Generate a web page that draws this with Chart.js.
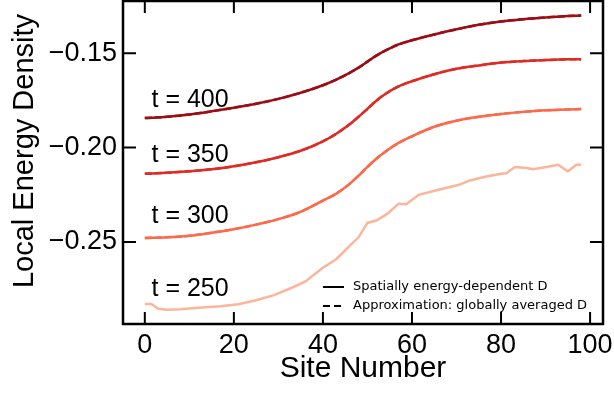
<!DOCTYPE html>
<html lang="en">
<head>
    <meta charset="UTF-8">
    <title>Local Energy Density</title>
    <style>
    body {
        margin: 0;
        padding: 0;
        background-color: white;
    }
    #chartBox {
        width: 614px;
        height: 393px;
    }
    </style>
    <script src="https://cdn.jsdelivr.net/npm/chart.js"></script>
</head>
<body>
    <div id="chartBox">
        <canvas id="energyChart" width="614" height="393"></canvas>
    </div>

    <script>
    // sites
    const sites = [0, 5, 10, 15, 20, 25, 30, 35, 40, 43, 46, 48, 50, 52, 54, 57, 60, 65, 70, 75, 80, 85, 90, 95, 98];
    const t400 = [-0.1844, -0.1837, -0.1825, -0.1808, -0.1789, -0.1768, -0.1742, -0.1710, -0.1670, -0.1640, -0.1604, -0.1577, -0.1545, -0.1513, -0.1487, -0.1454, -0.1432, -0.1401, -0.1374, -0.1350, -0.1332, -0.1320, -0.1311, -0.1304, -0.1301];
    const t350 = [-0.2139, -0.2133, -0.2125, -0.2115, -0.2099, -0.2078, -0.2051, -0.2017, -0.1967, -0.1927, -0.1877, -0.1837, -0.1795, -0.1752, -0.1716, -0.1676, -0.1649, -0.1612, -0.1583, -0.1565, -0.1550, -0.1542, -0.1537, -0.1533, -0.1532];
    const t300 = [-0.2479, -0.2475, -0.2467, -0.2451, -0.2432, -0.2408, -0.2379, -0.2340, -0.2281, -0.2244, -0.2192, -0.2149, -0.2102, -0.2059, -0.2022, -0.1975, -0.1940, -0.1890, -0.1858, -0.1837, -0.1822, -0.1811, -0.1803, -0.1798, -0.1796];

    // t = 250 is noisy, so it has its own sites
    const sites250 = [0, 1.5, 3, 5, 8, 12, 17, 21, 25, 29, 33, 36, 40, 43, 46, 48, 50, 52, 54.5, 57, 58.7, 61.5, 66, 70.6, 73, 76.7, 80, 81.2, 83.1, 85.7, 87.2, 90.2, 92.8, 95, 96.9, 98];
    const t250 = [-0.2828, -0.2828, -0.2853, -0.2858, -0.2856, -0.2848, -0.2840, -0.2829, -0.2808, -0.2781, -0.2742, -0.2710, -0.2636, -0.2591, -0.2520, -0.2475, -0.2399, -0.2386, -0.2350, -0.2297, -0.2300, -0.2250, -0.2223, -0.2197, -0.2174, -0.2153, -0.2139, -0.2136, -0.2103, -0.2108, -0.2114, -0.2103, -0.2091, -0.2126, -0.2091, -0.2091];

    const xTicks = [0, 20, 40, 60, 80, 100];
    const yTicks = [-0.15, -0.20, -0.25];

    const curveLabels = ['t = 400', 't = 350', 't = 300', 't = 250'];
    const labelSite = 1.5;
    const labelLevels = [-0.1786, -0.2074, -0.2399, -0.2788];
    const legendTexts = ['Spatially energy-dependent D', 'Approximation: globally averaged D'];

    const colors = ['#9c0d16', '#de2b25', '#fb6a4a', '#fcb49a'];

    const toPoints = (xs, ys) => xs.map((s, i) => ({ x: s, y: ys[i] }));

    function solid(xs, ys, color, smooth) {
        return {
            data: toPoints(xs, ys),
            borderColor: color,
            borderWidth: 2.5,
            pointRadius: 0,
            fill: false,
            cubicInterpolationMode: smooth ? 'monotone' : 'default',
            tension: 0,
            order: 1
        };
    }
    function dashed(xs, ys, color) {
        return {
            data: toPoints(xs, ys),
            borderColor: color,
            borderWidth: 2.5,
            borderDash: [7, 3],
            pointRadius: 0,
            fill: false,
            cubicInterpolationMode: 'monotone',
            order: 0
        };
    }

    // frame, inward ticks, curve labels, legend and y title
    const framePlugin = {
        id: 'frame',
        afterDraw(chart) {
            const ctx = chart.ctx;
            const a = chart.chartArea;
            const x = chart.scales.x;
            const y = chart.scales.y;
            ctx.save();
            ctx.strokeStyle = '#000';
            ctx.lineWidth = 2;
            ctx.beginPath();
            xTicks.forEach(v => {
                const px = x.getPixelForValue(v);
                ctx.moveTo(px, a.bottom); ctx.lineTo(px, a.bottom - 12);
                ctx.moveTo(px, a.top); ctx.lineTo(px, a.top + 12);
            });
            yTicks.forEach(v => {
                const py = y.getPixelForValue(v);
                ctx.moveTo(a.left, py); ctx.lineTo(a.left + 13, py);
                ctx.moveTo(a.right, py); ctx.lineTo(a.right - 13, py);
            });
            ctx.stroke();
            ctx.lineWidth = 2.5;
            ctx.strokeRect(a.left, a.top, a.right - a.left, a.bottom - a.top);

            ctx.fillStyle = '#000';
            ctx.font = '25px "Liberation Sans", Arial, sans-serif';
            ctx.textAlign = 'left';
            ctx.textBaseline = 'alphabetic';
            curveLabels.forEach((t, i) => {
                ctx.fillText(t, x.getPixelForValue(labelSite), y.getPixelForValue(labelLevels[i]));
            });

            // legend
            ctx.font = '13px "DejaVu Sans", sans-serif';
            ctx.textBaseline = 'middle';
            const rows = [287, 306];
            ctx.lineWidth = 2;
            legendTexts.forEach((t, i) => {
                ctx.setLineDash(i === 0 ? [] : [7, 4]);
                ctx.beginPath();
                ctx.moveTo(323, rows[i]);
                ctx.lineTo(344, rows[i]);
                ctx.stroke();
                ctx.fillText(t, 353, rows[i]);
            });
            ctx.setLineDash([]);

            // y axis title
            ctx.font = '29px "Liberation Sans", Arial, sans-serif';
            ctx.textAlign = 'center';
            ctx.textBaseline = 'alphabetic';
            ctx.translate(33, 151);
            ctx.rotate(-Math.PI / 2);
            ctx.fillText('Local Energy Density', 0, 0);
            ctx.restore();
        }
    };

    const ctx = document.getElementById('energyChart').getContext('2d');
    new Chart(ctx, {
        type: 'line',
        data: {
            datasets: [
                solid(sites, t400, colors[0], true),
                dashed(sites, t400, colors[0]),
                solid(sites, t350, colors[1], true),
                dashed(sites, t350, colors[1]),
                solid(sites, t300, colors[2], true),
                dashed(sites, t300, colors[2]),
                solid(sites250, t250, colors[3], false)
            ]
        },
        options: {
            responsive: false,
            animation: false,
            devicePixelRatio: 1,
            layout: { padding: { top: 1, right: 11, left: 0, bottom: 0 } },
            plugins: {
                legend: { display: false },
                tooltip: { enabled: false }
            },
            scales: {
                x: {
                    type: 'linear',
                    min: -4.9,
                    max: 102.9,
                    afterFit: s => { s.height = 69; s.paddingLeft = 0; s.paddingRight = 0; },
                    afterBuildTicks: s => { s.ticks = xTicks.map(v => ({ value: v })); },
                    grid: { display: false, drawTicks: false },
                    border: { display: false },
                    ticks: {
                        padding: 5,
                        color: '#000',
                        maxRotation: 0,
                        font: { family: '"Liberation Sans", Arial, sans-serif', size: 27 }
                    },
                    title: {
                        display: true,
                        text: 'Site Number',
                        color: '#000',
                        padding: { top: 0, bottom: 6 },
                        font: { family: '"Liberation Sans", Arial, sans-serif', size: 30 }
                    }
                },
                y: {
                    min: -0.2934,
                    max: -0.1224,
                    afterFit: s => { s.width = 123; s.paddingTop = 0; s.paddingBottom = 0; },
                    afterBuildTicks: s => { s.ticks = yTicks.map(v => ({ value: v })); },
                    grid: { display: false, drawTicks: false },
                    border: { display: false },
                    ticks: {
                        padding: 6,
                        color: '#000',
                        font: { family: '"Liberation Sans", Arial, sans-serif', size: 27 },
                        callback: v => '\u2212' + Math.abs(v).toFixed(2)
                    }
                }
            }
        },
        plugins: [framePlugin]
    });
    </script>
</body>
</html>
